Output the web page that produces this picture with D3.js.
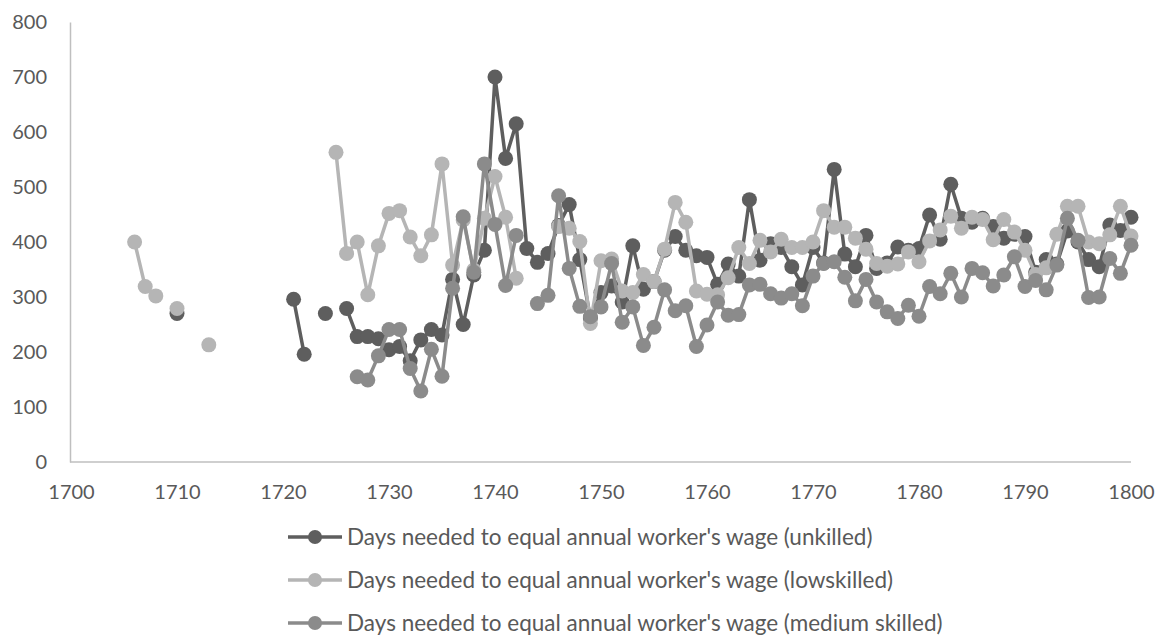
<!DOCTYPE html>
<html>
<head>
<meta charset="utf-8">
<script src="https://cdn.jsdelivr.net/npm/d3@7"></script>
<style>
  html, body { margin: 0; padding: 0; background: #fff; }
  #plot { width: 1164px; height: 641px; }
</style>
</head>
<body>
<div id="plot"></div>
<script>
// data, one value per year starting at 1706 (null = no value)
const startYear = 1706;

const unskilled = [
  null, null, null, null, 270,
  null, null, null, null, null, null, null, null, null, null,
  296, 196, null, 270, null,
  279, 228, 228, 224, 204, 210, 184, 222, 241, 231,
  332, 250, 340, 385, 700, 552, 615, 388, 363, 379,
  430, 468, 368, 262, 308, 320, 291, 393, 314, 328,
  385, 410, 385, 375, 372, 323, 360, 338, 477, 367,
  397, 390, 355, 322, 390, 362, 532, 378, 355, 412,
  352, 362, 391, 385, 388, 449, 405, 505, 443, 436,
  443, 428, 407, 414, 410, 345, 368, 360, 420, 400,
  368, 355, 431, 421, 445
];

const lowskilled = [
  400, 319, 302, null, 279,
  null, null, 213, null, null, null, null, null, null, null,
  null, null, null, null, 563,
  379, 400, 304, 393, 452, 457, 409, 375, 413, 542,
  358, 440, 349, 443, 519, 445, 334, null, null, null,
  428, 425, 401, 252, 366, 369, 311, 308, 341, 328,
  387, 472, 436, 311, 305, 304, 335, 390, 361, 403,
  382, 405, 390, 390, 400, 457, 427, 427, 407, 387,
  361, 356, 360, 382, 364, 402, 422, 447, 425, 445,
  441, 404, 441, 418, 385, 341, 353, 414, 465, 465,
  400, 397, 413, 465, 411
];

const mediumSkilled = [
  null, null, null, null, null,
  null, null, null, null, null, null, null, null, null, null,
  null, null, null, null, null,
  null, 155, 149, 193, 241, 241, 170, 129, 205, 156,
  316, 446, 345, 542, 432, 321, 412, null, 288, 303,
  484, 352, 283, 264, 282, 361, 254, 282, 212, 245,
  313, 275, 284, 210, 249, 291, 267, 268, 322, 323,
  306, 298, 306, 284, 338, 361, 364, 336, 293, 332,
  291, 273, 261, 285, 265, 319, 306, 343, 300, 352,
  344, 320, 340, 373, 319, 330, 313, 358, 443, 403,
  299, 300, 370, 343, 394
];

const seriesNames = [
  "Days needed to equal annual worker's wage (unkilled)",
  "Days needed to equal annual worker's wage (lowskilled)",
  "Days needed to equal annual worker's wage (medium skilled)"
];
const seriesColors = ["#5e5e5e", "#b5b5b5", "#8b8b8b"];

const xTicks = [1700, 1710, 1720, 1730, 1740, 1750, 1760, 1770, 1780, 1790, 1800];
const yTicks = [0, 100, 200, 300, 400, 500, 600, 700, 800];

const width = 1164, height = 641;
const font = "Lato, 'Liberation Sans', sans-serif";
const textColor = "#595959";
const axisColor = "#bfbfbf";

const svg = d3.select("#plot").append("svg")
  .attr("width", width)
  .attr("height", height)
  .style("background-color", "white");

const x = d3.scaleLinear().domain([1700, 1800]).range([71, 1131]);
const y = d3.scaleLinear().domain([0, 800]).range([462, 22]);

// axes: plain grey lines, no ticks
const xAxis = svg.append("g")
  .attr("transform", `translate(0,${y(0)})`)
  .call(d3.axisBottom(x).tickValues(xTicks).tickFormat(d3.format("d")).tickSize(0).tickPadding(23));
xAxis.select(".domain").attr("stroke", axisColor).attr("stroke-width", 1.5)
  .attr("d", `M${x(1700) - 1},0H${x(1800)}`);
xAxis.selectAll("text").attr("fill", textColor).style("font-family", font).style("font-size", "20px")
  .attr("dy", "0.71em");

const yAxis = svg.append("g")
  .attr("transform", `translate(${x(1700) - 1},0)`)
  .call(d3.axisLeft(y).tickValues(yTicks).tickSize(0).tickPadding(23));
yAxis.select(".domain").attr("stroke", axisColor).attr("stroke-width", 1.5);
yAxis.selectAll("text").attr("fill", textColor).style("font-family", font).style("font-size", "20px");

const allSeries = [unskilled, lowskilled, mediumSkilled].map((vals, i) => ({
  name: seriesNames[i],
  color: seriesColors[i],
  points: vals.map((v, j) => ({ year: startYear + j, value: v }))
}));

const line = d3.line()
  .defined(d => d.value != null)
  .x(d => x(d.year))
  .y(d => y(d.value));

allSeries.forEach(s => {
  const g = svg.append("g");
  g.append("path")
    .datum(s.points)
    .attr("fill", "none")
    .attr("stroke", s.color)
    .attr("stroke-width", 3.5)
    .attr("stroke-linejoin", "round")
    .attr("d", line);
  g.selectAll("circle")
    .data(s.points.filter(d => d.value != null))
    .join("circle")
    .attr("cx", d => x(d.year))
    .attr("cy", d => y(d.value))
    .attr("r", 7.5)
    .attr("fill", s.color);
});

// legend, stacked under the axis
const legend = svg.append("g");
allSeries.forEach((s, i) => {
  const ly = 537 + i * 43;
  legend.append("line")
    .attr("x1", 288).attr("x2", 342)
    .attr("y1", ly).attr("y2", ly)
    .attr("stroke", s.color).attr("stroke-width", 3.5);
  legend.append("circle")
    .attr("cx", 315).attr("cy", ly).attr("r", 7)
    .attr("fill", s.color);
  legend.append("text")
    .attr("x", 347).attr("y", ly)
    .attr("dy", "0.35em")
    .attr("fill", textColor)
    .style("font-family", font)
    .style("font-size", "22.5px")
    .text(s.name);
});
</script>
</body>
</html>
